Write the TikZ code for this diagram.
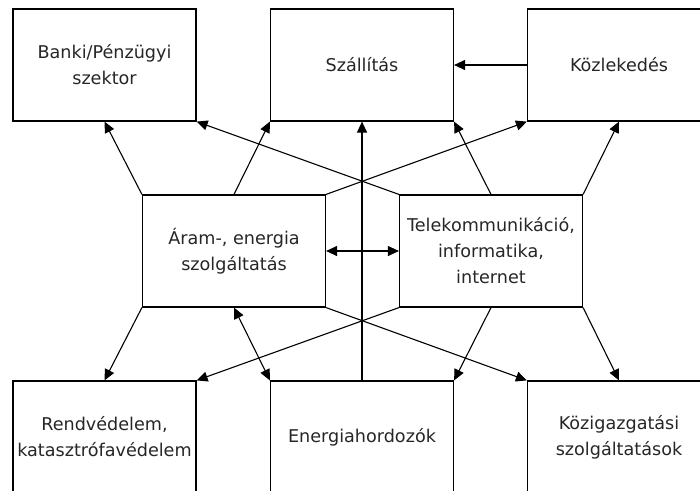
\documentclass[tikz,border=0pt]{standalone}
\usepackage{fontspec}
\setmainfont{DejaVu Sans}
\usetikzlibrary{arrows.meta}

\begin{document}
\begin{tikzpicture}[x=1pt,y=-1pt,
    doboz/.style={draw,line width=1.2pt,minimum width=183pt,minimum height=112pt,
        inner sep=0pt,align=center,text=black!85,font=\fontsize{17.6}{26}\selectfont},
    nyil/.style={line width=1.1pt,-{Triangle[length=11pt,width=10pt]}},
    kettos/.style={line width=1.1pt,{Triangle[length=11pt,width=10pt]}-{Triangle[length=11pt,width=10pt]}}]
    \clip (0,0) rectangle (700,490);

    % felso sor
    \node[doboz] (banki) at (104.5,65) {Banki/Pénzügyi\\szektor};
    \node[doboz] (szall) at (362,65) {Szállítás};
    \node[doboz] (kozl) at (619,65) {Közlekedés};

    % kozepso sor
    \node[doboz] (aram) at (234,251) {Áram-, energia\\szolgáltatás};
    \node[doboz] (telek) at (491,251) {Telekommunikáció,\\informatika,\\internet};

    % also sor
    \node[doboz] (rend) at (104.5,437) {Rendvédelem,\\katasztrófavédelem};
    \node[doboz] (energ) at (362,437) {Energiahordozók};
    \node[doboz] (kozig) at (619,437) {Közigazgatási\\szolgáltatások};

    % felfele
    \draw[nyil] (aram.north west) -- (banki.south);
    \draw[nyil] (aram.north) -- (szall.south west);
    \draw[nyil] (aram.north east) -- (kozl.south west);
    \draw[nyil] (telek.north west) -- (banki.south east);
    \draw[nyil] (telek.north) -- (szall.south east);
    \draw[nyil] (telek.north east) -- (kozl.south);
    \draw[nyil] (energ.north) -- (szall.south);
    \draw[nyil] (kozl.west) -- (szall.east);
    \draw[kettos] (aram.east) -- (telek.west);

    % lefele
    \draw[nyil] (aram.south west) -- (rend.north);
    \draw[kettos] (aram.south) -- (energ.north west);
    \draw[nyil] (aram.south east) -- (kozig.north west);
    \draw[nyil] (telek.south west) -- (rend.north east);
    \draw[nyil] (telek.south) -- (energ.north east);
    \draw[nyil] (telek.south east) -- (kozig.north);
\end{tikzpicture}
\end{document}
